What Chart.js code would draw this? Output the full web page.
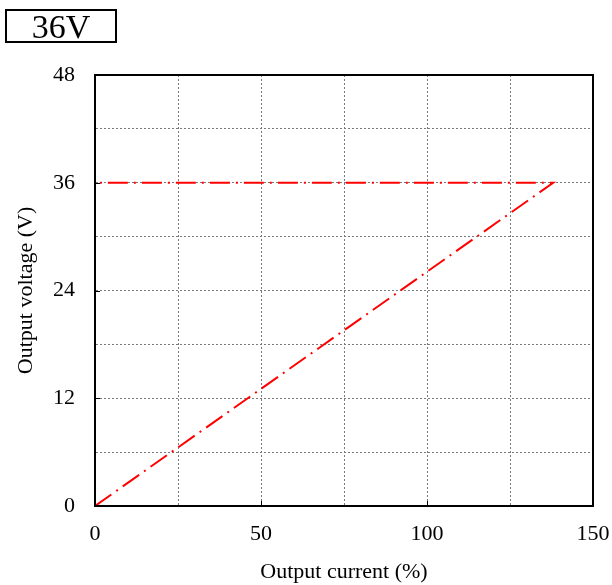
<!DOCTYPE html>
<html>
<head>
<meta charset="utf-8">
<script src="https://cdn.jsdelivr.net/npm/chart.js@4"></script>
<style>
  html, body { margin: 0; padding: 0; background: #fff; }
  #wrap { position: relative; width: 612px; height: 585px; }
  #tag { position: absolute; left: 5px; top: 9px; width: 108px; height: 30px; border: 2px solid #000;
         font-family: "Liberation Serif", "Times New Roman", serif; font-size: 34px; line-height: 31px;
         text-align: center; color: #000; }
  canvas { position: absolute; left: 0; top: 0; }
</style>
</head>
<body>
<div id="wrap">
  <canvas id="c" width="612" height="585"></canvas>
  <div id="tag">36V</div>
</div>
<script>
const titleText = "36V";
const xTitle = "Output current (%)";
const yTitle = "Output voltage (V)";
const currents = [0, 138, 0];
const voltages = [0, 36, 36];
const xTicks = [0, 50, 100, 150];
const yTicks = [0, 12, 24, 36, 48];

const points = currents.map((x, i) => ({ x: x, y: voltages[i] }));
const serif = "'Liberation Serif', 'Times New Roman', serif";

const frame = {
  id: 'frame',
  afterDraw(chart) {
    const { ctx, chartArea: a, scales } = chart;
    ctx.save();
    ctx.strokeStyle = '#000';
    ctx.lineWidth = 2;
    ctx.strokeRect(a.left, a.top, a.right - a.left, a.bottom - a.top);
    ctx.lineWidth = 1;
    ctx.beginPath();
    xTicks.forEach(v => {
      const px = Math.round(scales.x.getPixelForValue(v)) + 0.5;
      ctx.moveTo(px, a.bottom); ctx.lineTo(px, a.bottom - 5);
    });
    yTicks.forEach(v => {
      const py = Math.round(scales.y.getPixelForValue(v)) + 0.5;
      ctx.moveTo(a.left, py); ctx.lineTo(a.left + 5, py);
    });
    ctx.stroke();
    ctx.restore();
  }
};

new Chart(document.getElementById('c'), {
  type: 'scatter',
  data: {
    datasets: [{
      label: titleText,
      data: points,
      showLine: true,
      borderColor: '#ff0000',
      borderWidth: 2,
      borderDash: [20, 6, 2, 6],
      pointRadius: 0,
      fill: false,
      tension: 0
    }]
  },
  options: {
    responsive: false,
    animation: false,
    layout: { padding: { left: 0, right: 19, top: 75, bottom: 0 } },
    plugins: { legend: { display: false }, tooltip: { enabled: false }, title: { display: false } },
    scales: {
      x: {
        type: 'linear', min: 0, max: 150,
        ticks: { stepSize: 25, color: '#000', font: { family: serif, size: 22 }, padding: 15, maxRotation: 0,
                 callback: v => xTicks.includes(v) ? String(v) : '' },
        grid: { color: '#7a7a7a', lineWidth: 1, drawTicks: false },
        border: { display: true, color: '#000', width: 2, dash: [2, 2] },
        title: { display: true, text: xTitle, color: '#000', font: { family: serif, size: 22 }, padding: { top: 6, bottom: 0 } },
        afterFit(s) { s.height = 79; s.paddingRight = 0; s.paddingLeft = 0; }
      },
      y: {
        type: 'linear', min: 0, max: 48,
        ticks: { stepSize: 6, color: '#000', font: { family: serif, size: 22 }, padding: 20,
                 callback: v => yTicks.includes(v) ? String(v) : '' },
        grid: { color: '#7a7a7a', lineWidth: 1, drawTicks: false },
        border: { display: true, color: '#000', width: 2, dash: [2, 2] },
        title: { display: true, text: yTitle, color: '#000', font: { family: serif, size: 22 }, padding: { top: 13, bottom: 13 } },
        afterFit(s) { s.width = 95; s.paddingTop = 0; s.paddingBottom = 0; }
      }
    }
  },
  plugins: [frame]
});
</script>
</body>
</html>
